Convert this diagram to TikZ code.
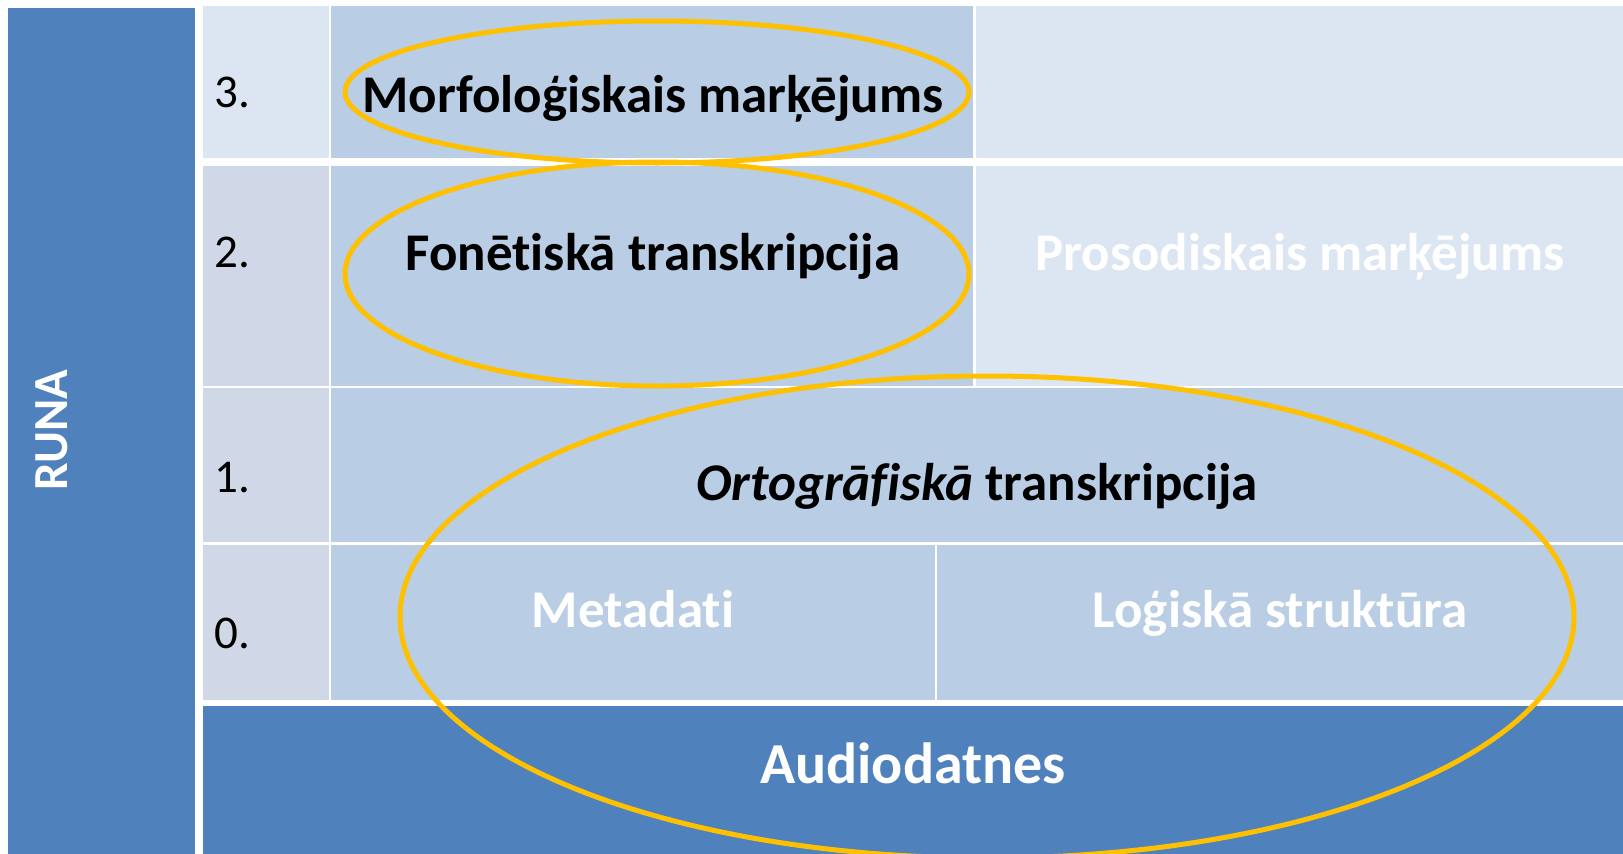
\documentclass[tikz,border=0pt]{standalone}
\usepackage{fontspec}
\setmainfont{Carlito}[Ligatures=NoCommon]
\usetikzlibrary{shapes.geometric}
\definecolor{darkblue}{HTML}{4F81BD}
\definecolor{midblue}{HTML}{B9CDE5}
\definecolor{paleblue}{HTML}{DCE6F2}
\definecolor{greyblue}{HTML}{D0D8E8}
\definecolor{ringorange}{HTML}{FFC000}
\tikzset{
  cellbox/.style={rectangle, draw=none, inner sep=0pt, outer sep=0pt, anchor=north west},
  lbl/.style={anchor=base, inner sep=0pt, font=\fontsize{53}{63}\selectfont\bfseries},
  numlbl/.style={anchor=base west, inner sep=0pt, font=\fontsize{47}{56}\selectfont},
  ring/.style={ellipse, draw=ringorange, line width=5pt, inner sep=0pt, fill=none}
}
\begin{document}
\begin{tikzpicture}[x=1pt, y=-1pt]
\useasboundingbox[fill=white] (0,0) rectangle (1623,854);
% left bar
\node[cellbox, fill=darkblue, minimum width=187pt, minimum height=846pt] (bar) at (8,8) {};
% row 3
\node[cellbox, fill=paleblue, minimum width=126pt, minimum height=152pt] (n3) at (203,6) {};
\node[cellbox, fill=midblue, minimum width=642pt, minimum height=152pt] (c3) at (331,6) {};
\node[cellbox, fill=paleblue, minimum width=647pt, minimum height=152pt] (d3) at (976,6) {};
% row 2
\node[cellbox, fill=greyblue, minimum width=126pt, minimum height=220pt] (n2) at (203,166) {};
\node[cellbox, fill=midblue, minimum width=642pt, minimum height=220pt] (c2) at (331,166) {};
\node[cellbox, fill=paleblue, minimum width=647pt, minimum height=220pt] (d2) at (976,166) {};
% row 1
\node[cellbox, fill=greyblue, minimum width=126pt, minimum height=154pt] (n1) at (203,388) {};
\node[cellbox, fill=midblue, minimum width=1292pt, minimum height=154pt] (c1) at (331,388) {};
% row 0
\node[cellbox, fill=greyblue, minimum width=126pt, minimum height=155pt] (n0) at (203,545) {};
\node[cellbox, fill=midblue, minimum width=604pt, minimum height=155pt] (c0) at (331,545) {};
\node[cellbox, fill=midblue, minimum width=686pt, minimum height=155pt] (d0) at (937,545) {};
% audio
\node[cellbox, fill=darkblue, minimum width=1420pt, minimum height=148pt] (audio) at (203,706) {};

% numbers
\node[numlbl] (t3) at (214,107) {3.};
\node[numlbl] (t2) at (214,267) {2.};
\node[numlbl] (t1) at (214,492) {1.};
\node[numlbl] (t0) at (214,648) {0.};

% labels
\node[lbl] (morf) at (653,112) {Morfoloģiskais marķējums};
\node[lbl] (fon) at (653,270) {Fonētiskā transkripcija};
\node[lbl, text=white] (pros) at (1300,270) {Prosodiskais marķējums};
\node[lbl] (orto) at (977,500) {\textit{Ortogrāfiskā} transkripcija};
\node[lbl, text=white] (meta) at (633,627) {Metadati};
\node[lbl, text=white] (logi) at (1280,627) {Loģiskā struktūra};
\node[lbl, text=white, font=\fontsize{58}{68}\selectfont\bfseries] (aud) at (913,783) {Audiodatnes};
\node[lbl, text=white, rotate=90, font=\fontsize{49}{58}\selectfont\bfseries] (runa) at (67,430) {RUNA};

% rings
\node[ring, minimum width=624pt, minimum height=142pt] (e1) at (657,92) {};
\node[ring, minimum width=624pt, minimum height=224pt] (e2) at (657,274) {};
\node[ring, minimum width=1174pt, minimum height=482pt] (e3) at (987,617) {};
\end{tikzpicture}
\end{document}
